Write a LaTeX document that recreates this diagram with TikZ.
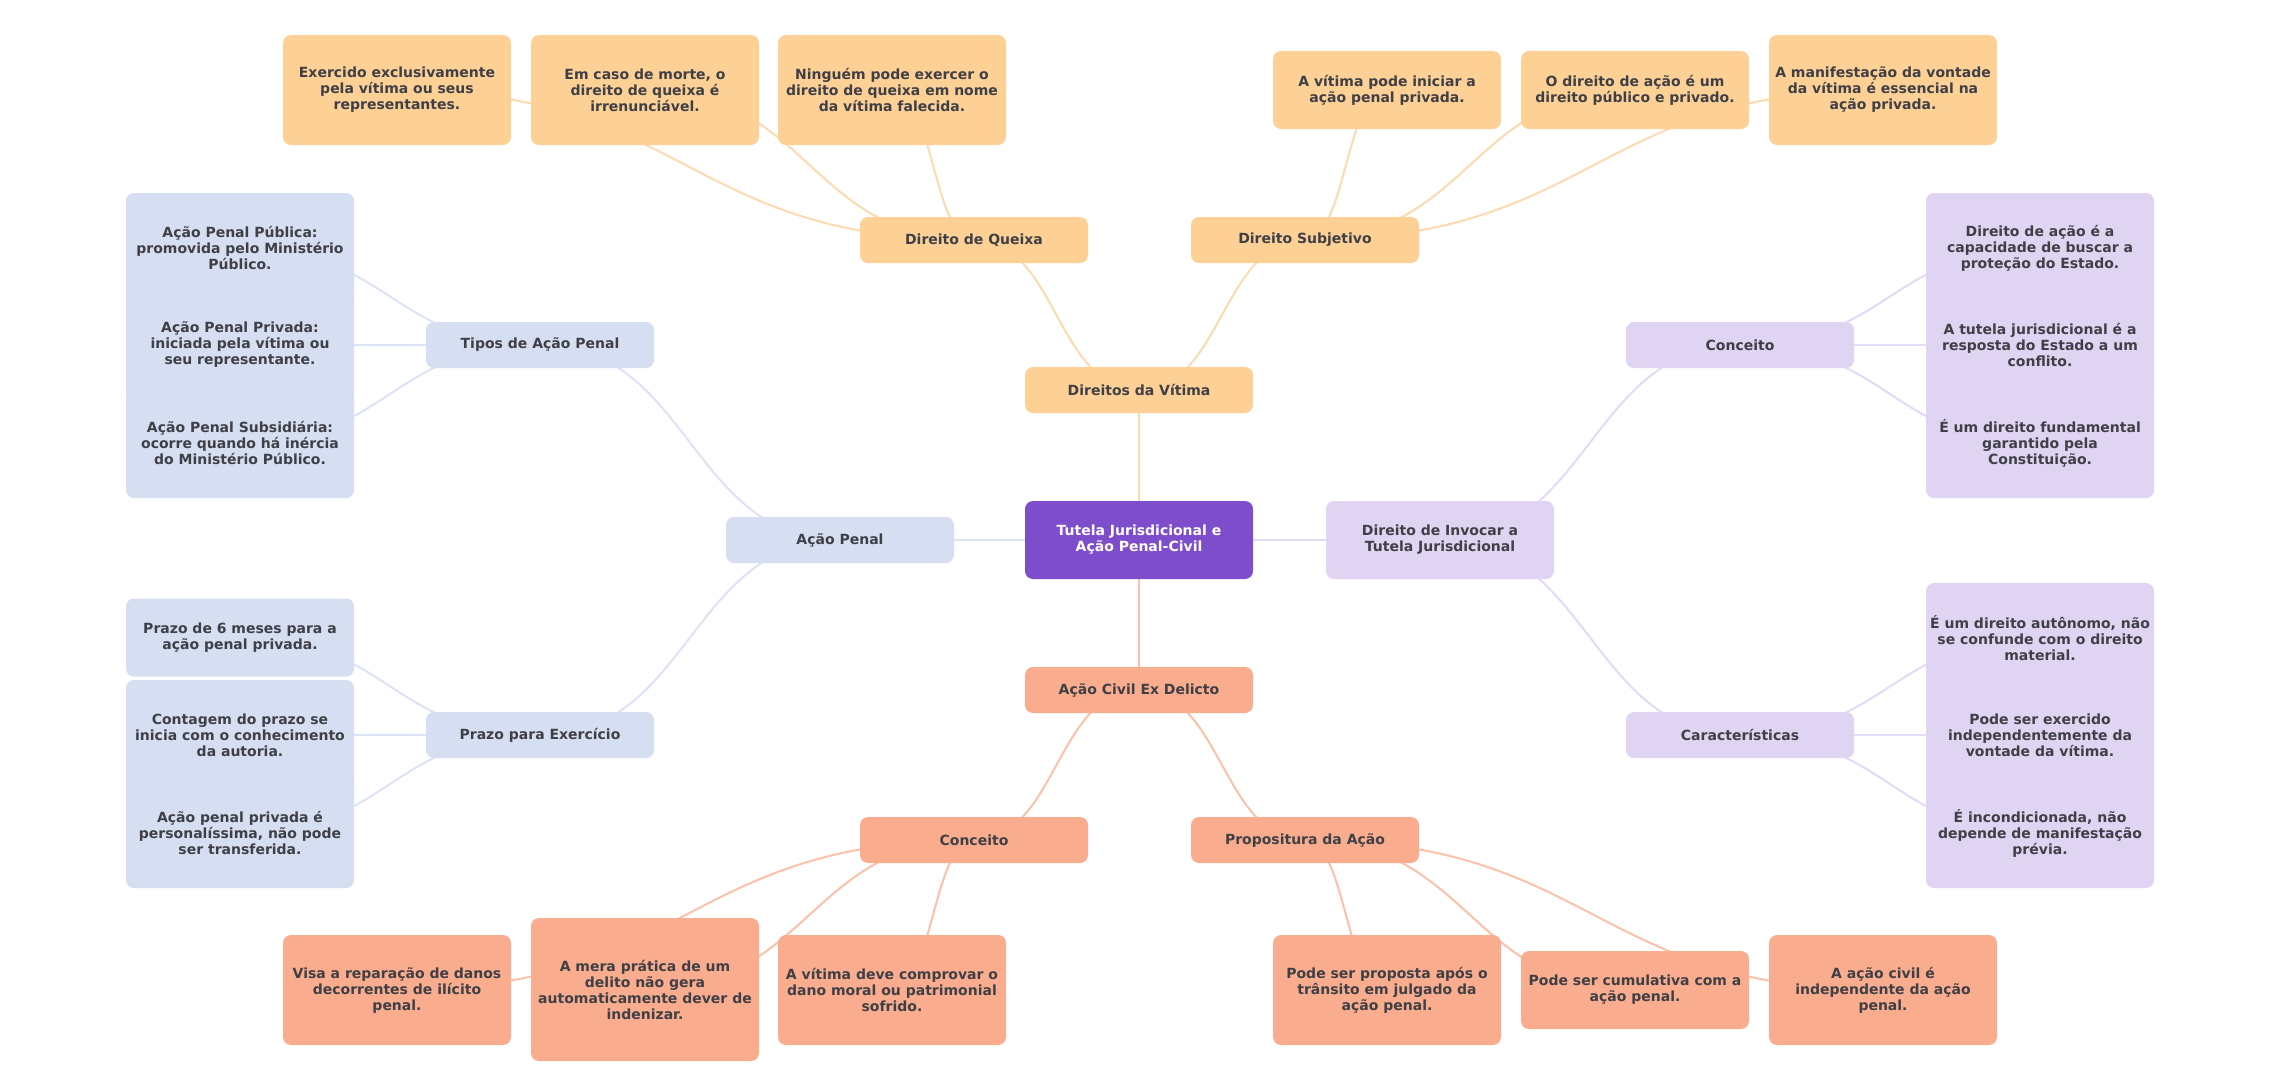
\documentclass[tikz,border=0pt]{standalone}
\usepackage{fontspec}
\setmainfont{DejaVu Sans}
\usetikzlibrary{calc,backgrounds}
\definecolor{rootfill}{HTML}{7E4DCB}
\definecolor{vitimafill}{HTML}{FDD096}
\definecolor{penalfill}{HTML}{D6DEF2}
\definecolor{tutelafill}{HTML}{DFD4F2}
\definecolor{civilfill}{HTML}{F9AD8E}
\definecolor{vitimaline}{HTML}{FDDAB0}
\definecolor{penalline}{HTML}{DCE3F5}
\definecolor{tutelaline}{HTML}{E3DAF5}
\definecolor{civilline}{HTML}{FBC2A9}
\definecolor{textgray}{HTML}{3F3F46}

\begin{document}
\begin{tikzpicture}[x=1pt, y=-1pt,
    box/.style={rounded corners=8pt, minimum width=228pt, minimum height=46pt,
      inner sep=0pt, align=center, text=textgray,
      font=\fontsize{14}{16}\selectfont\bfseries},
    two/.style={minimum height=78pt},
    three/.style={minimum height=110pt},
    four/.style={minimum height=143pt},
    root/.style={box, two, fill=rootfill, text=white},
    vitima/.style={box, fill=vitimafill},
    penal/.style={box, fill=penalfill},
    tutela/.style={box, fill=tutelafill},
    civil/.style={box, fill=civilfill},
    link/.style={line width=2pt, to path={let \p1=(\tikztostart), \p2=(\tikztotarget) in
      .. controls ({(\x1+\x2)/2},\y1) and ({(\x1+\x2)/2},\y2) .. (\tikztotarget)}}]

  \useasboundingbox (0,0) rectangle (2280,1080);

  % centre and main branches
  \node[root] (tutela) at (1139,540) {Tutela Jurisdicional e\\Ação Penal-Civil};
  \node[vitima] (direitos) at (1139,390) {Direitos da Vítima};
  \node[penal] (acaopenal) at (840,540) {Ação Penal};
  \node[tutela, two] (invocar) at (1440,540) {Direito de Invocar a\\Tutela Jurisdicional};
  \node[civil] (exdelicto) at (1139,690) {Ação Civil Ex Delicto};

  % second level
  \node[vitima] (queixa) at (974,240) {Direito de Queixa};
  \node[vitima] (subjetivo) at (1305,240) {Direito Subjetivo};
  \node[penal] (tipos) at (540,345) {Tipos de Ação Penal};
  \node[penal] (prazo) at (540,735) {Prazo para Exercício};
  \node[tutela] (conceito) at (1740,345) {Conceito};
  \node[tutela] (caract) at (1740,735) {Características};
  \node[civil] (civconceito) at (974,840) {Conceito};
  \node[civil] (propositura) at (1305,840) {Propositura da Ação};

  % leaves
  \node[vitima, three] (queixa1) at (397,90) {Exercido exclusivamente\\pela vítima ou seus\\representantes.};
  \node[vitima, three] (queixa2) at (645,90) {Em caso de morte, o\\direito de queixa é\\irrenunciável.};
  \node[vitima, three] (queixa3) at (892,90) {Ninguém pode exercer o\\direito de queixa em nome\\da vítima falecida.};

  \node[vitima, two] (subj1) at (1387,90) {A vítima pode iniciar a\\ação penal privada.};
  \node[vitima, two] (subj2) at (1635,90) {O direito de ação é um\\direito público e privado.};
  \node[vitima, three] (subj3) at (1883,90) {A manifestação da vontade\\da vítima é essencial na\\ação privada.};

  \node[penal, three] (tipos1) at (240,248) {Ação Penal Pública:\\promovida pelo Ministério\\Público.};
  \node[penal, three] (tipos2) at (240,345) {Ação Penal Privada:\\iniciada pela vítima ou\\seu representante.};
  \node[penal, three] (tipos3) at (240,443) {Ação Penal Subsidiária:\\ocorre quando há inércia\\do Ministério Público.};

  \node[penal, two] (prazo1) at (240,637.5) {Prazo de 6 meses para a\\ação penal privada.};
  \node[penal, three] (prazo2) at (240,735) {Contagem do prazo se\\inicia com o conhecimento\\da autoria.};
  \node[penal, three] (prazo3) at (240,833) {Ação penal privada é\\personalíssima, não pode\\ser transferida.};

  \node[tutela, three] (conc1) at (2040,248) {Direito de ação é a\\capacidade de buscar a\\proteção do Estado.};
  \node[tutela, three] (conc2) at (2040,345) {A tutela jurisdicional é a\\resposta do Estado a um\\conflito.};
  \node[tutela, three] (conc3) at (2040,443) {É um direito fundamental\\garantido pela\\Constituição.};

  \node[tutela, three] (caract1) at (2040,638) {É um direito autônomo, não\\se confunde com o direito\\material.};
  \node[tutela, three] (caract2) at (2040,735) {Pode ser exercido\\independentemente da\\vontade da vítima.};
  \node[tutela, three] (caract3) at (2040,833) {É incondicionada, não\\depende de manifestação\\prévia.};

  \node[civil, three] (civ1) at (397,990) {Visa a reparação de danos\\decorrentes de ilícito\\penal.};
  \node[civil, four] (civ2) at (645,989.5) {A mera prática de um\\delito não gera\\automaticamente dever de\\indenizar.};
  \node[civil, three] (civ3) at (892,990) {A vítima deve comprovar o\\dano moral ou patrimonial\\sofrido.};

  \node[civil, three] (prop1) at (1387,990) {Pode ser proposta após o\\trânsito em julgado da\\ação penal.};
  \node[civil, two] (prop2) at (1635,990) {Pode ser cumulativa com a\\ação penal.};
  \node[civil, three] (prop3) at (1883,990) {A ação civil é\\independente da ação\\penal.};

  % connectors
  \begin{scope}[on background layer]
    \fill[white] (0,0) rectangle (2280,1080);
    \draw[link, vitimaline] (tutela.center) to (direitos.center);
    \draw[link, penalline] (tutela.center) to (acaopenal.center);
    \draw[link, tutelaline] (tutela.center) to (invocar.center);
    \draw[link, civilline] (tutela.center) to (exdelicto.center);

    \draw[link, vitimaline] (direitos.center) to (queixa.center);
    \draw[link, vitimaline] (direitos.center) to (subjetivo.center);
    \draw[link, penalline] (acaopenal.center) to (tipos.center);
    \draw[link, penalline] (acaopenal.center) to (prazo.center);
    \draw[link, tutelaline] (invocar.center) to (conceito.center);
    \draw[link, tutelaline] (invocar.center) to (caract.center);
    \draw[link, civilline] (exdelicto.center) to (civconceito.center);
    \draw[link, civilline] (exdelicto.center) to (propositura.center);

    \draw[link, vitimaline] (queixa.center) to (queixa1.center);
    \draw[link, vitimaline] (queixa.center) to (queixa2.center);
    \draw[link, vitimaline] (queixa.center) to (queixa3.center);
    \draw[link, vitimaline] (subjetivo.center) to (subj1.center);
    \draw[link, vitimaline] (subjetivo.center) to (subj2.center);
    \draw[link, vitimaline] (subjetivo.center) to (subj3.center);

    \draw[link, penalline] (tipos.center) to (tipos1.center);
    \draw[link, penalline] (tipos.center) to (tipos2.center);
    \draw[link, penalline] (tipos.center) to (tipos3.center);
    \draw[link, penalline] (prazo.center) to (prazo1.center);
    \draw[link, penalline] (prazo.center) to (prazo2.center);
    \draw[link, penalline] (prazo.center) to (prazo3.center);

    \draw[link, tutelaline] (conceito.center) to (conc1.center);
    \draw[link, tutelaline] (conceito.center) to (conc2.center);
    \draw[link, tutelaline] (conceito.center) to (conc3.center);
    \draw[link, tutelaline] (caract.center) to (caract1.center);
    \draw[link, tutelaline] (caract.center) to (caract2.center);
    \draw[link, tutelaline] (caract.center) to (caract3.center);

    \draw[link, civilline] (civconceito.center) to (civ1.center);
    \draw[link, civilline] (civconceito.center) to (civ2.center);
    \draw[link, civilline] (civconceito.center) to (civ3.center);
    \draw[link, civilline] (propositura.center) to (prop1.center);
    \draw[link, civilline] (propositura.center) to (prop2.center);
    \draw[link, civilline] (propositura.center) to (prop3.center);
  \end{scope}
\end{tikzpicture}
\end{document}
